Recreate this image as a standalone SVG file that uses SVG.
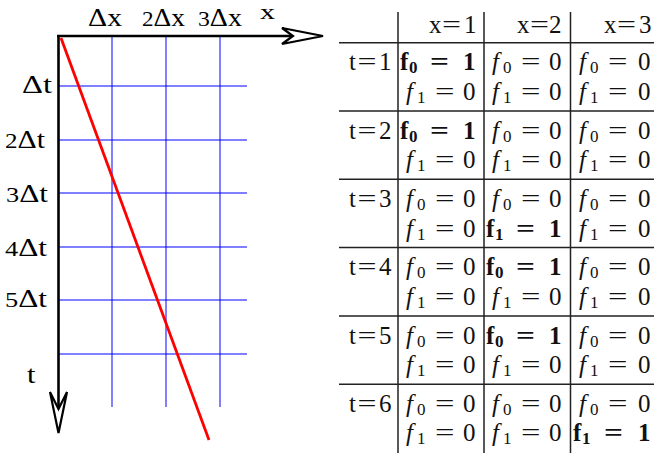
<svg xmlns="http://www.w3.org/2000/svg" width="654" height="453" viewBox="0 0 654 453">
<style>
.lb{font-family:"Liberation Serif","DejaVu Serif",serif;font-size:25px;fill:#000}
.dg{font-size:21px}
.t{font-family:"Liberation Serif","DejaVu Serif",serif;font-size:25px;fill:#111}
.it{font-style:italic}
.b{font-weight:bold}
.sub{font-size:17px}
.grid{stroke:#0000ff;stroke-width:1;fill:none}
.axis{stroke:#000;stroke-width:2.6;fill:none}
.head{stroke:#000;stroke-width:2.2;fill:#fff;stroke-linejoin:miter}
.rule{stroke:#222;stroke-width:1.5;fill:none}
</style>
<rect width="654" height="453" fill="#fff"/>
<g id="grid">
<path class="grid" d="M112,36V407M166,36V407M220,36V407M58,86H247M58,140H247M58,193H247M58,247H247M58,300H247M58,354H247"/>
</g>
<g id="trajectory">
<line x1="61" y1="38" x2="209" y2="440" stroke="#ff0000" stroke-width="2.8"/>
</g>
<g id="axes">
<path class="axis" d="M57,36H292M58.5,35V410"/>
<polygon class="head" points="282,28 323,36 282,44 293,36"/>
<polygon class="head" points="50,392 58.5,433 67,392 58.5,409"/>
</g>
<g id="axis-labels">
<text class="lb" x="88" y="26" textLength="34" lengthAdjust="spacingAndGlyphs">Δx</text>
<text class="lb" x="142" y="26" textLength="43" lengthAdjust="spacingAndGlyphs"><tspan class="dg">2</tspan>Δx</text>
<text class="lb" x="198" y="26" textLength="44" lengthAdjust="spacingAndGlyphs"><tspan class="dg">3</tspan>Δx</text>
<text class="lb" x="260" y="19" style="font-size:21px" textLength="15" lengthAdjust="spacingAndGlyphs">x</text>
<text class="lb" x="22" y="93" textLength="30" lengthAdjust="spacingAndGlyphs">Δt</text>
<text class="lb" x="5" y="148" textLength="40" lengthAdjust="spacingAndGlyphs"><tspan class="dg">2</tspan>Δt</text>
<text class="lb" x="6" y="201.5" textLength="42" lengthAdjust="spacingAndGlyphs"><tspan class="dg">3</tspan>Δt</text>
<text class="lb" x="5" y="256" textLength="42" lengthAdjust="spacingAndGlyphs"><tspan class="dg">4</tspan>Δt</text>
<text class="lb" x="5" y="307" textLength="42" lengthAdjust="spacingAndGlyphs"><tspan class="dg">5</tspan>Δt</text>
<text class="lb" x="27" y="383" style="font-size:26px" textLength="8.5" lengthAdjust="spacingAndGlyphs">t</text>
</g>
<g id="table-rules">
<path class="rule" d="M398,12V453M484,12V453M570.5,12V453M339,42.7H654M339,111H654M339,179.3H654M339,247.6H654M339,315.9H654M339,384.2H654"/>
</g>
<g id="table-header">
<text class="t" y="33"><tspan x="429">x</tspan><tspan x="442" textLength="19" lengthAdjust="spacingAndGlyphs">=</tspan><tspan x="464">1</tspan></text>
<text class="t" y="33"><tspan x="517">x</tspan><tspan x="530" textLength="19" lengthAdjust="spacingAndGlyphs">=</tspan><tspan x="549">2</tspan></text>
<text class="t" y="33"><tspan x="604">x</tspan><tspan x="617" textLength="19" lengthAdjust="spacingAndGlyphs">=</tspan><tspan x="639">3</tspan></text>
</g>
<g id="row-t1">
<text class="t" y="70"><tspan x="349">t</tspan><tspan x="357.5" textLength="19" lengthAdjust="spacingAndGlyphs">=</tspan><tspan x="379">1</tspan></text>
<text class="t" y="70"><tspan class="b" x="400">f</tspan><tspan class="sub b" x="409" dy="3">0</tspan><tspan class="b" x="430" dy="-3" textLength="19" lengthAdjust="spacingAndGlyphs">=</tspan><tspan class="b" x="463">1</tspan><tspan class="it" x="406" y="99.5">f</tspan><tspan class="sub" x="417" dy="3">1</tspan><tspan x="435" dy="-3" textLength="19.5" lengthAdjust="spacingAndGlyphs">=</tspan><tspan x="463">0</tspan></text>
<text class="t" y="70"><tspan class="it" x="492">f</tspan><tspan class="sub" x="503" dy="3">0</tspan><tspan x="521" dy="-3" textLength="19.5" lengthAdjust="spacingAndGlyphs">=</tspan><tspan x="549">0</tspan><tspan class="it" x="492" y="99.5">f</tspan><tspan class="sub" x="503" dy="3">1</tspan><tspan x="521" dy="-3" textLength="19.5" lengthAdjust="spacingAndGlyphs">=</tspan><tspan x="549">0</tspan></text>
<text class="t" y="70"><tspan class="it" x="579">f</tspan><tspan class="sub" x="590" dy="3">0</tspan><tspan x="608" dy="-3" textLength="19.5" lengthAdjust="spacingAndGlyphs">=</tspan><tspan x="638">0</tspan><tspan class="it" x="579" y="99.5">f</tspan><tspan class="sub" x="590" dy="3">1</tspan><tspan x="608" dy="-3" textLength="19.5" lengthAdjust="spacingAndGlyphs">=</tspan><tspan x="638">0</tspan></text>
</g>
<g id="row-t2">
<text class="t" y="138.5"><tspan x="349">t</tspan><tspan x="357.5" textLength="19" lengthAdjust="spacingAndGlyphs">=</tspan><tspan x="379">2</tspan></text>
<text class="t" y="138.5"><tspan class="b" x="400">f</tspan><tspan class="sub b" x="409" dy="3">0</tspan><tspan class="b" x="430" dy="-3" textLength="19" lengthAdjust="spacingAndGlyphs">=</tspan><tspan class="b" x="463">1</tspan><tspan class="it" x="406" y="168">f</tspan><tspan class="sub" x="417" dy="3">1</tspan><tspan x="435" dy="-3" textLength="19.5" lengthAdjust="spacingAndGlyphs">=</tspan><tspan x="463">0</tspan></text>
<text class="t" y="138.5"><tspan class="it" x="492">f</tspan><tspan class="sub" x="503" dy="3">0</tspan><tspan x="521" dy="-3" textLength="19.5" lengthAdjust="spacingAndGlyphs">=</tspan><tspan x="549">0</tspan><tspan class="it" x="492" y="168">f</tspan><tspan class="sub" x="503" dy="3">1</tspan><tspan x="521" dy="-3" textLength="19.5" lengthAdjust="spacingAndGlyphs">=</tspan><tspan x="549">0</tspan></text>
<text class="t" y="138.5"><tspan class="it" x="579">f</tspan><tspan class="sub" x="590" dy="3">0</tspan><tspan x="608" dy="-3" textLength="19.5" lengthAdjust="spacingAndGlyphs">=</tspan><tspan x="638">0</tspan><tspan class="it" x="579" y="168">f</tspan><tspan class="sub" x="590" dy="3">1</tspan><tspan x="608" dy="-3" textLength="19.5" lengthAdjust="spacingAndGlyphs">=</tspan><tspan x="638">0</tspan></text>
</g>
<g id="row-t3">
<text class="t" y="207"><tspan x="349">t</tspan><tspan x="357.5" textLength="19" lengthAdjust="spacingAndGlyphs">=</tspan><tspan x="379">3</tspan></text>
<text class="t" y="207"><tspan class="it" x="406">f</tspan><tspan class="sub" x="417" dy="3">0</tspan><tspan x="435" dy="-3" textLength="19.5" lengthAdjust="spacingAndGlyphs">=</tspan><tspan x="463">0</tspan><tspan class="it" x="406" y="236.5">f</tspan><tspan class="sub" x="417" dy="3">1</tspan><tspan x="435" dy="-3" textLength="19.5" lengthAdjust="spacingAndGlyphs">=</tspan><tspan x="463">0</tspan></text>
<text class="t" y="207"><tspan class="it" x="492">f</tspan><tspan class="sub" x="503" dy="3">0</tspan><tspan x="521" dy="-3" textLength="19.5" lengthAdjust="spacingAndGlyphs">=</tspan><tspan x="549">0</tspan><tspan class="b" x="486" y="236.5">f</tspan><tspan class="sub b" x="495" dy="3">1</tspan><tspan class="b" x="516" dy="-3" textLength="19" lengthAdjust="spacingAndGlyphs">=</tspan><tspan class="b" x="549">1</tspan></text>
<text class="t" y="207"><tspan class="it" x="579">f</tspan><tspan class="sub" x="590" dy="3">0</tspan><tspan x="608" dy="-3" textLength="19.5" lengthAdjust="spacingAndGlyphs">=</tspan><tspan x="638">0</tspan><tspan class="it" x="579" y="236.5">f</tspan><tspan class="sub" x="590" dy="3">1</tspan><tspan x="608" dy="-3" textLength="19.5" lengthAdjust="spacingAndGlyphs">=</tspan><tspan x="638">0</tspan></text>
</g>
<g id="row-t4">
<text class="t" y="275"><tspan x="349">t</tspan><tspan x="357.5" textLength="19" lengthAdjust="spacingAndGlyphs">=</tspan><tspan x="379">4</tspan></text>
<text class="t" y="275"><tspan class="it" x="406">f</tspan><tspan class="sub" x="417" dy="3">0</tspan><tspan x="435" dy="-3" textLength="19.5" lengthAdjust="spacingAndGlyphs">=</tspan><tspan x="463">0</tspan><tspan class="it" x="406" y="304.5">f</tspan><tspan class="sub" x="417" dy="3">1</tspan><tspan x="435" dy="-3" textLength="19.5" lengthAdjust="spacingAndGlyphs">=</tspan><tspan x="463">0</tspan></text>
<text class="t" y="275"><tspan class="b" x="486">f</tspan><tspan class="sub b" x="495" dy="3">0</tspan><tspan class="b" x="516" dy="-3" textLength="19" lengthAdjust="spacingAndGlyphs">=</tspan><tspan class="b" x="549">1</tspan><tspan class="it" x="492" y="304.5">f</tspan><tspan class="sub" x="503" dy="3">1</tspan><tspan x="521" dy="-3" textLength="19.5" lengthAdjust="spacingAndGlyphs">=</tspan><tspan x="549">0</tspan></text>
<text class="t" y="275"><tspan class="it" x="579">f</tspan><tspan class="sub" x="590" dy="3">0</tspan><tspan x="608" dy="-3" textLength="19.5" lengthAdjust="spacingAndGlyphs">=</tspan><tspan x="638">0</tspan><tspan class="it" x="579" y="304.5">f</tspan><tspan class="sub" x="590" dy="3">1</tspan><tspan x="608" dy="-3" textLength="19.5" lengthAdjust="spacingAndGlyphs">=</tspan><tspan x="638">0</tspan></text>
</g>
<g id="row-t5">
<text class="t" y="343.5"><tspan x="349">t</tspan><tspan x="357.5" textLength="19" lengthAdjust="spacingAndGlyphs">=</tspan><tspan x="379">5</tspan></text>
<text class="t" y="343.5"><tspan class="it" x="406">f</tspan><tspan class="sub" x="417" dy="3">0</tspan><tspan x="435" dy="-3" textLength="19.5" lengthAdjust="spacingAndGlyphs">=</tspan><tspan x="463">0</tspan><tspan class="it" x="406" y="373">f</tspan><tspan class="sub" x="417" dy="3">1</tspan><tspan x="435" dy="-3" textLength="19.5" lengthAdjust="spacingAndGlyphs">=</tspan><tspan x="463">0</tspan></text>
<text class="t" y="343.5"><tspan class="b" x="486">f</tspan><tspan class="sub b" x="495" dy="3">0</tspan><tspan class="b" x="516" dy="-3" textLength="19" lengthAdjust="spacingAndGlyphs">=</tspan><tspan class="b" x="549">1</tspan><tspan class="it" x="492" y="373">f</tspan><tspan class="sub" x="503" dy="3">1</tspan><tspan x="521" dy="-3" textLength="19.5" lengthAdjust="spacingAndGlyphs">=</tspan><tspan x="549">0</tspan></text>
<text class="t" y="343.5"><tspan class="it" x="579">f</tspan><tspan class="sub" x="590" dy="3">0</tspan><tspan x="608" dy="-3" textLength="19.5" lengthAdjust="spacingAndGlyphs">=</tspan><tspan x="638">0</tspan><tspan class="it" x="579" y="373">f</tspan><tspan class="sub" x="590" dy="3">1</tspan><tspan x="608" dy="-3" textLength="19.5" lengthAdjust="spacingAndGlyphs">=</tspan><tspan x="638">0</tspan></text>
</g>
<g id="row-t6">
<text class="t" y="411.5"><tspan x="349">t</tspan><tspan x="357.5" textLength="19" lengthAdjust="spacingAndGlyphs">=</tspan><tspan x="379">6</tspan></text>
<text class="t" y="411.5"><tspan class="it" x="406">f</tspan><tspan class="sub" x="417" dy="3">0</tspan><tspan x="435" dy="-3" textLength="19.5" lengthAdjust="spacingAndGlyphs">=</tspan><tspan x="463">0</tspan><tspan class="it" x="406" y="441">f</tspan><tspan class="sub" x="417" dy="3">1</tspan><tspan x="435" dy="-3" textLength="19.5" lengthAdjust="spacingAndGlyphs">=</tspan><tspan x="463">0</tspan></text>
<text class="t" y="411.5"><tspan class="it" x="492">f</tspan><tspan class="sub" x="503" dy="3">0</tspan><tspan x="521" dy="-3" textLength="19.5" lengthAdjust="spacingAndGlyphs">=</tspan><tspan x="549">0</tspan><tspan class="it" x="492" y="441">f</tspan><tspan class="sub" x="503" dy="3">1</tspan><tspan x="521" dy="-3" textLength="19.5" lengthAdjust="spacingAndGlyphs">=</tspan><tspan x="549">0</tspan></text>
<text class="t" y="411.5"><tspan class="it" x="579">f</tspan><tspan class="sub" x="590" dy="3">0</tspan><tspan x="608" dy="-3" textLength="19.5" lengthAdjust="spacingAndGlyphs">=</tspan><tspan x="638">0</tspan><tspan class="b" x="573" y="441">f</tspan><tspan class="sub b" x="582" dy="3">1</tspan><tspan class="b" x="604" dy="-3" textLength="19" lengthAdjust="spacingAndGlyphs">=</tspan><tspan class="b" x="638">1</tspan></text>
</g>
</svg>
